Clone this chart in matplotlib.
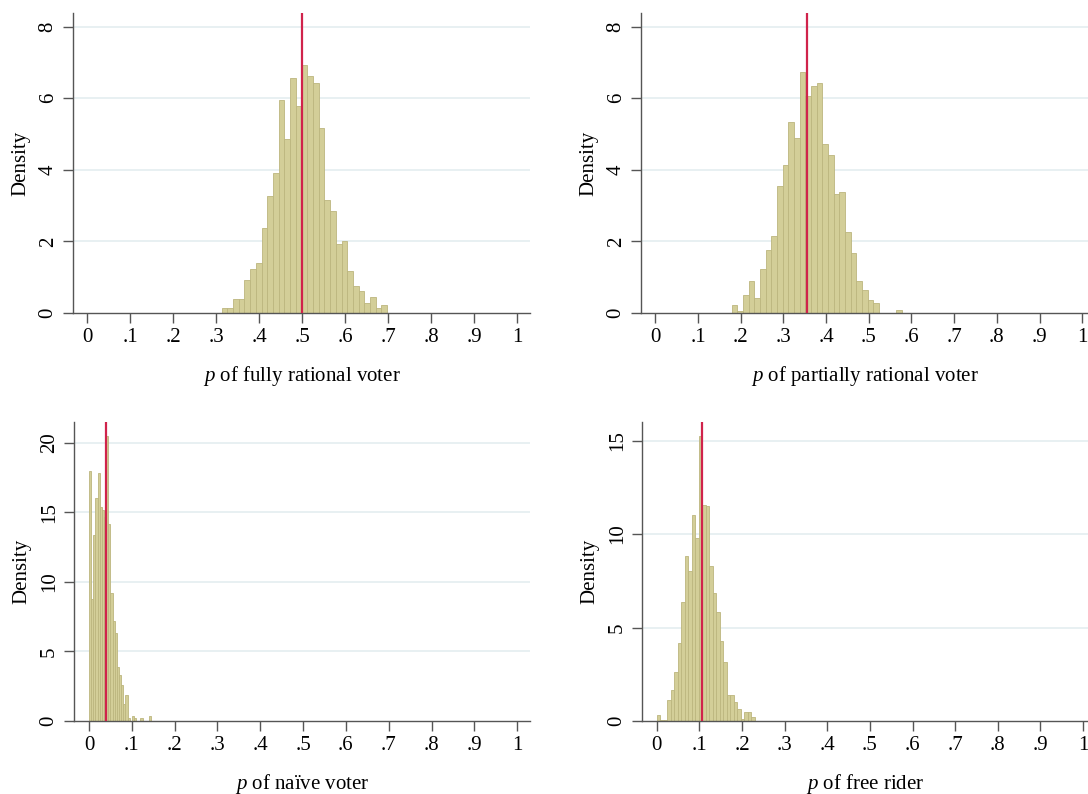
import numpy as np
import matplotlib
matplotlib.use('Agg')
import matplotlib.pyplot as plt

plt.rcParams['font.family'] = ['Liberation Serif', 'DejaVu Serif']
plt.rcParams['mathtext.fontset'] = 'custom'
plt.rcParams['mathtext.it'] = 'Liberation Serif:italic'
plt.rcParams['mathtext.rm'] = 'Liberation Serif'

# histogram data: first bin edge, bin width, densities
fully_start = 0.313
fully_width = 0.01328
fully_heights = [0.15, 0.15, 0.40, 0.40, 0.92, 1.23, 1.39, 2.38, 3.26, 3.92,
                 5.94, 4.85, 6.56, 5.79, 6.94, 6.63, 6.42, 5.18, 3.15, 2.84,
                 1.93, 2.00, 1.16, 0.76, 0.62, 0.29, 0.45, 0.15, 0.22]
fully_true = 0.5

partial_start = 0.179
partial_width = 0.01328
partial_heights = [0.21, 0.05, 0.51, 0.89, 0.42, 1.24, 1.76, 2.15, 3.55, 4.13,
                   5.33, 4.88, 6.73, 6.05, 6.33, 6.42, 4.72, 4.42, 3.32, 3.39,
                   2.26, 1.68, 0.89, 0.64, 0.36, 0.27, 0, 0, 0, 0.07]
partial_true = 0.356

naive_start = 0.0
naive_width = 0.005
naive_heights = [17.96, 8.77, 13.4, 16.0, 17.8, 15.4, 15.2, 14.7, 20.5, 14.2,
                 9.2, 7.2, 6.3, 3.9, 3.3, 2.6, 1.2, 1.85, 0.2, 0,
                 0.36, 0.24, 0, 0, 0.2, 0, 0, 0, 0.36]
naive_true = 0.04

free_start = 0.0
free_width = 0.0082
free_heights = [0.32, 0.08, 0.08, 1.12, 1.66, 2.64, 4.19, 6.38, 8.82, 8.04,
                11.05, 9.8, 15.26, 11.55, 11.5, 8.29, 6.86, 5.81, 4.30, 3.14,
                1.39, 1.39, 1.04, 0.64, 0.1, 0.5, 0.5, 0.23]
free_true = 0.107

x_ticks = [0, 0.1, 0.2, 0.3, 0.4, 0.5, 0.6, 0.7, 0.8, 0.9, 1]
x_labels = ['0', '.1', '.2', '.3', '.4', '.5', '.6', '.7', '.8', '.9', '1']

W, H = 1088, 794
fig = plt.figure(figsize=(W / 100, H / 100), dpi=100)


def panel(px, xlim, ylim, yticks, start, width, heights, true_p, label):
    ax = fig.add_axes([px[0] / W, (H - px[3]) / H, (px[1] - px[0]) / W, (px[3] - px[2]) / H])
    edges = start + width * np.arange(len(heights))
    ax.bar(edges, heights, width=width, align='edge', color='#d3ce98',
           edgecolor='#bcb67e', linewidth=0.6, zorder=2)
    ax.axvline(true_p, color='#d0234b', linewidth=1.6, zorder=3)
    ax.set_xlim(*xlim)
    ax.set_ylim(*ylim)
    ax.set_xticks(x_ticks)
    ax.set_xticklabels(x_labels)
    ax.set_yticks(yticks)
    for y in yticks[1:]:
        ax.axhline(y, color='#e4edf0', linewidth=1.2, zorder=1)
    for s in ['top', 'right']:
        ax.spines[s].set_visible(False)
    for s in ['left', 'bottom']:
        ax.spines[s].set_color('#555555')
        ax.spines[s].set_linewidth(1.0)
    ax.tick_params(axis='both', length=7, width=1.0, color='#555555', labelsize=15)
    ax.tick_params(axis='x', pad=4)
    ax.tick_params(axis='y', pad=4)
    for t in ax.get_yticklabels():
        t.set_rotation(90)
        t.set_va('center')
        t.set_ha('right')
    ax.set_ylabel('Density', fontsize=15, labelpad=6)
    ax.set_xlabel(r'$\it{p}$ of ' + label, fontsize=15, labelpad=12)
    return ax


panel((73, 530, 13, 313), (-0.0326, 1.0302), (0, 8.38), [0, 2, 4, 6, 8],
      fully_start, fully_width, fully_heights, fully_true, 'fully rational voter')
panel((641, 1088, 13, 313), (-0.0335, 1.0136), (0, 8.38), [0, 2, 4, 6, 8],
      partial_start, partial_width, partial_heights, partial_true, 'partially rational voter')
panel((74, 530, 422, 721), (-0.035, 1.03), (0, 21.5), [0, 5, 10, 15, 20],
      naive_start, naive_width, naive_heights, naive_true, 'naïve voter')
panel((642, 1088, 422, 721), (-0.0345, 1.0116), (0, 16.0), [0, 5, 10, 15],
      free_start, free_width, free_heights, free_true, 'free rider')

fig.savefig('out.png', dpi=100)
